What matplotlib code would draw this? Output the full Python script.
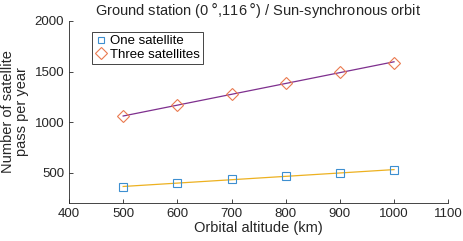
import numpy as np
import matplotlib.pyplot as plt

plt.rcParams['font.family'] = ['Liberation Sans', 'DejaVu Sans']

altitude = [500, 600, 700, 800, 900, 1000]
one_sat = [355, 398, 435, 468, 500, 521]
three_sat = [1058, 1165, 1275, 1386, 1496, 1588]

fig = plt.figure(figsize=(4.63, 2.41), dpi=100)
ax = fig.add_axes((0.149, 0.158, 0.819, 0.755))

# linear fits drawn as lines, raw points as markers
for vals, col in [(one_sat, '#EDB120'), (three_sat, '#7E2F8E')]:
    p = np.polyfit(altitude, vals, 1)
    ax.plot(altitude, np.polyval(p, altitude), color=col, linewidth=0.9, zorder=2)

ax.plot(altitude, one_sat, 's', markerfacecolor='none', markeredgecolor='#3d8fd0',
        markersize=6, markeredgewidth=0.8, label='One satellite', zorder=3)
ax.plot(altitude, three_sat, 'D', markerfacecolor='none', markeredgecolor='#ea7a50',
        markersize=6.5, markeredgewidth=0.8, label='Three satellites', zorder=3)

ax.set_xlim(400, 1100)
ax.set_ylim(200, 2000)
ax.set_xticks(range(400, 1101, 100))
ax.set_yticks([500, 1000, 1500, 2000])
ax.tick_params(direction='in', length=3, width=0.6, labelsize=9.5, colors='#262626')
for s in ['top', 'right']:
    ax.spines[s].set_visible(False)
for s in ['left', 'bottom']:
    ax.spines[s].set_linewidth(0.6)
    ax.spines[s].set_color('#262626')

ax.set_xlabel('Orbital altitude (km)', fontsize=10.5, labelpad=1, color='#262626')
ax.set_ylabel('Number of satellite\npass per year', fontsize=10.5, labelpad=4,
              color='#262626', linespacing=1.0)
ax.set_title('Ground station (0$\\,\\degree$,116$\\,\\degree$) / Sun-synchronous orbit',
             fontsize=10.5, pad=4, color='#262626')

leg = ax.legend(loc='upper left', bbox_to_anchor=(0.062, 0.94), fontsize=9.5,
                handlelength=0.8, handletextpad=0.3, borderpad=0.25, labelspacing=0.1,
                borderaxespad=0, fancybox=False, framealpha=1, edgecolor='#262626')
leg.get_frame().set_linewidth(0.6)
leg.legend_handles[0].set_markersize(5)

fig.savefig('out.png', dpi=100)
